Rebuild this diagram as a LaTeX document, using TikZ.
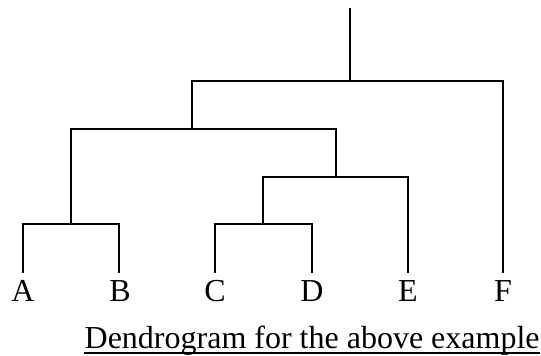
\documentclass[tikz,border=0pt]{standalone}
\usepackage{fontspec}
\setmainfont{Liberation Serif}
\usetikzlibrary{calc}
\begin{document}
\begin{tikzpicture}[x=0.5pt,y=-0.5pt,
  branch/.style={line width=1pt,black},
  leaflabel/.style={anchor=base,inner sep=0pt,font=\fontsize{16}{19}\selectfont},
  captiontext/.style={anchor=base east,inner sep=0pt,font=\fontsize{16}{19}\selectfont}]
\useasboundingbox (0,0) rectangle (541,356);
% leaf labels
\node[leaflabel] (A) at (23,302) {A};
\node[leaflabel] (B) at (120,302) {B};
\node[leaflabel] (C) at (215,302) {C};
\node[leaflabel] (D) at (312,302) {D};
\node[leaflabel] (E) at (408,302) {E};
\node[leaflabel] (F) at (503,302) {F};
% leaf tops
\coordinate (tA) at (23,273);
\coordinate (tB) at (119,273);
\coordinate (tC) at (215,273);
\coordinate (tD) at (312,273);
\coordinate (tE) at (408,273);
\coordinate (tF) at (503,273);
% merge points
\coordinate (jAB) at (71,224);
\coordinate (jCD) at (263,224);
\coordinate (jCDE) at (336,177);
\coordinate (jABCDE) at (192,129);
\coordinate (root) at (350,81);
\coordinate (top) at (350,8);
% branches
\draw[branch] (tA) |- (jAB) -| (tB);
\draw[branch] (tC) |- (jCD) -| (tD);
\draw[branch] (jCD) |- (jCDE) -| (tE);
\draw[branch] (jAB) |- (jABCDE) -| (jCDE);
\draw[branch] (jABCDE) |- (root) -| (tF);
\draw[branch] (root) -- (top);
% caption
\node[captiontext] (cap) at (540,349) {Dendrogram for the above example};
\draw[line width=1pt] ($(cap.base west)+(0,4.5)$) -- ($(cap.base east)+(0,4.5)$);
\end{tikzpicture}
\end{document}
